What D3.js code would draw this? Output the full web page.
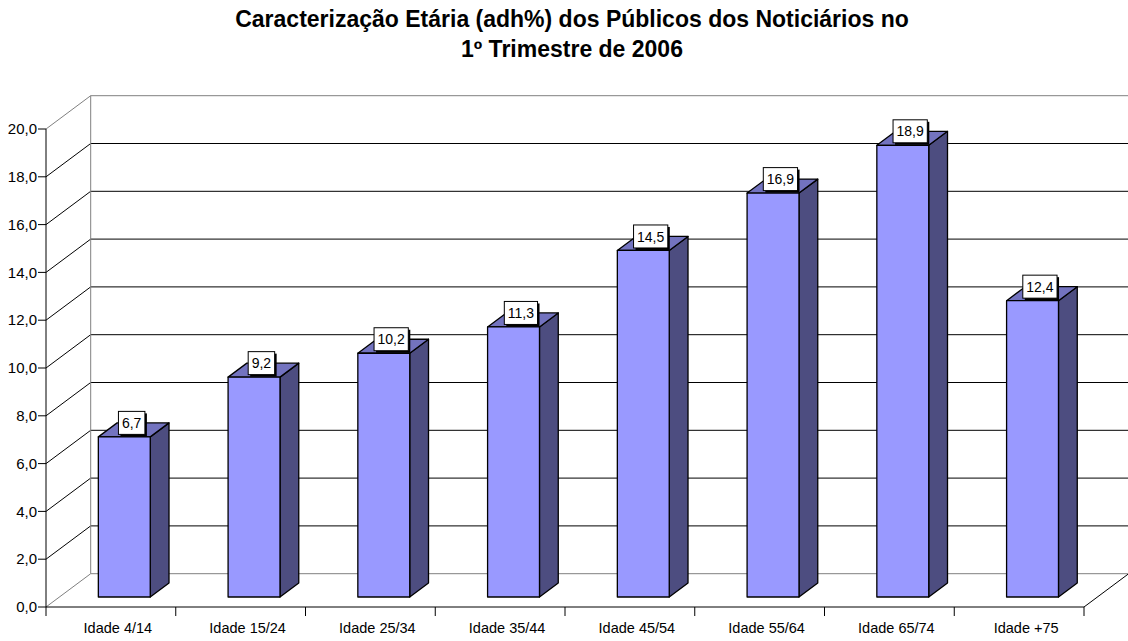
<!DOCTYPE html>
<html><head><meta charset="utf-8">
<script src="https://cdn.jsdelivr.net/npm/d3@7"></script>
<style>body{margin:0;background:#fff}svg{display:block}text{font-family:"Liberation Sans",Arial,sans-serif}</style>
</head><body><svg id="c" width="1128" height="641"></svg>
<script>
const titleLines = ["Caracterização Etária (adh%) dos Públicos dos Noticiários no", "1º Trimestre de 2006"];
const categories = ["Idade 4/14","Idade 15/24","Idade 25/34","Idade 35/44","Idade 45/54","Idade 55/64","Idade 65/74","Idade +75"];
const values = [6.7, 9.2, 10.2, 11.3, 14.5, 16.9, 18.9, 12.4];
const yTicks = [0,2,4,6,8,10,12,14,16,18,20];

const svg = d3.select("#c");
const fmt = v => d3.format(".1f")(v).replace(".", ",");

const DX = 44.7, DY = -33.3;
const x = d3.scaleBand().domain(categories).range([46, 1084]).padding(0);
const y = d3.scaleLinear().domain([0, 20]).range([607, 129]);
const P = (px, v, f) => [px + f * DX, y(v) + f * DY];

// title
svg.append("g").selectAll("text").data(titleLines).join("text")
  .attr("x", 572).attr("y", (d, i) => 27 + i * 30)
  .attr("text-anchor", "middle").attr("font-size", 23).attr("font-weight", "bold").text(d => d);

const g = svg.append("g");
const xL = x.range()[0], xR = x.range()[1];

// back wall gridlines and left wall diagonals
yTicks.forEach(t => {
  const isEdge = (t === 0 || t === 20);
  g.append("line").attr("x1", xL + DX).attr("x2", xR + DX).attr("y1", y(t) + DY).attr("y2", y(t) + DY)
    .attr("stroke", isEdge ? "#808080" : "#000").attr("stroke-width", 1);
  g.append("line").attr("x1", xL).attr("y1", y(t)).attr("x2", xL + DX).attr("y2", y(t) + DY)
    .attr("stroke", isEdge ? "#808080" : "#000").attr("stroke-width", 1);
});
// wall edges
g.append("line").attr("x1", xL + DX).attr("x2", xL + DX).attr("y1", y(20) + DY).attr("y2", y(0) + DY).attr("stroke", "#808080");
g.append("line").attr("x1", xR + DX).attr("x2", xR + DX).attr("y1", y(20) + DY).attr("y2", y(0) + DY).attr("stroke", "#c8c8c8");
// floor right diagonal
g.append("line").attr("x1", xR).attr("y1", y(0)).attr("x2", xR + DX).attr("y2", y(0) + DY).attr("stroke", "#000");

// axes
g.append("line").attr("x1", xL).attr("x2", xL).attr("y1", y(20)).attr("y2", y(0)).attr("stroke", "#000");
g.append("line").attr("x1", xL).attr("x2", xR).attr("y1", y(0)).attr("y2", y(0)).attr("stroke", "#000");
g.selectAll(".yt").data(yTicks).join("line").attr("class","yt")
  .attr("x1", xL - 8).attr("x2", xL).attr("y1", d => y(d)).attr("y2", d => y(d)).attr("stroke", "#000");
g.selectAll(".yl").data(yTicks).join("text").attr("class","yl")
  .attr("x", xL - 9).attr("y", d => y(d)).attr("dy", "0.35em").attr("text-anchor", "end")
  .attr("font-size", 15).text(d => fmt(d));
const bounds = categories.map(c => x(c)).concat([xR]);
g.selectAll(".xt").data(bounds).join("line").attr("class","xt")
  .attr("x1", d => d).attr("x2", d => d).attr("y1", y(0)).attr("y2", y(0) + 9).attr("stroke", "#000");
g.selectAll(".xl").data(categories).join("text").attr("class","xl")
  .attr("x", d => x(d) + x.bandwidth() / 2 + 7).attr("y", 633).attr("text-anchor", "middle")
  .attr("font-size", 14.5).text(d => d);

// bars
const F0 = 0.3, F1 = 0.72, bw = x.bandwidth() * 0.4;
const pts = a => a.map(p => p.join(",")).join(" ");
const bars = g.append("g");
categories.forEach((c, i) => {
  const v = values[i];
  const l = x(c) + x.bandwidth() / 2 - bw / 2, r = l + bw;
  const front = [P(l, 0, F0), P(r, 0, F0), P(r, v, F0), P(l, v, F0)];
  const side = [P(r, 0, F0), P(r, 0, F1), P(r, v, F1), P(r, v, F0)];
  const top = [P(l, v, F0), P(r, v, F0), P(r, v, F1), P(l, v, F1)];
  bars.append("polygon").attr("points", pts(side)).attr("fill", "#4d4d80").attr("stroke", "#000").attr("stroke-width", 1.3).attr("stroke-linejoin", "round");
  bars.append("polygon").attr("points", pts(top)).attr("fill", "#7373bf").attr("stroke", "#000").attr("stroke-width", 1.3).attr("stroke-linejoin", "round");
  bars.append("polygon").attr("points", pts(front)).attr("fill", "#9999ff").attr("stroke", "#000").attr("stroke-width", 1.3).attr("stroke-linejoin", "round");
});

// data labels
const labels = g.append("g");
categories.forEach((c, i) => {
  const v = values[i];
  const fm = (F0 + F1) / 2;
  const [cx, cy0] = P(x(c) + x.bandwidth() / 2, v, fm);
  const cx2 = cx - 2, cyc = cy0 - 7;
  const t = labels.append("text").attr("x", cx2).attr("y", cyc).attr("dy", "0.36em")
    .attr("text-anchor", "middle").attr("font-size", 14).text(fmt(v));
  const w = t.node().getComputedTextLength() + 7, h = 23;
  labels.insert("rect", "text").attr("x", cx2 - w / 2 + 2).attr("y", cyc - h / 2 + 2).attr("width", w).attr("height", h).attr("fill", "#000");
  labels.insert("rect", "text").attr("x", cx2 - w / 2).attr("y", cyc - h / 2).attr("width", w).attr("height", h).attr("fill", "#fff").attr("stroke", "#000").attr("stroke-width", 1);
});
</script></body></html>
